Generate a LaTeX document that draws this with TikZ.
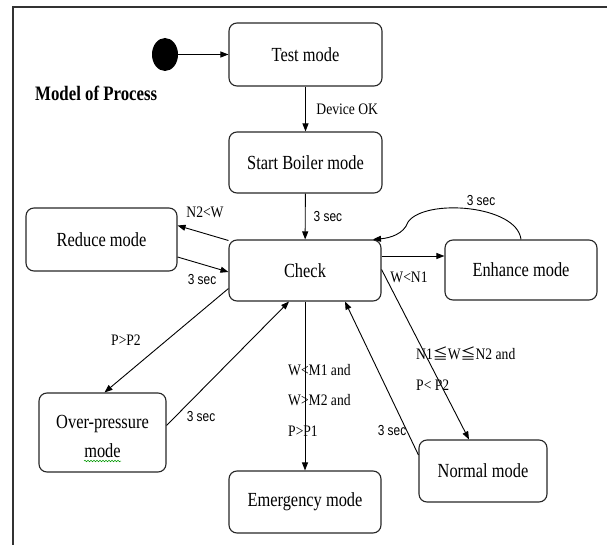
\documentclass[tikz,border=0pt]{standalone}
\usepackage{fontspec}
\setmainfont{Liberation Serif}
\newfontfamily\boxfont{Liberation Serif}[FakeStretch=0.82]
\newfontfamily\lblfont{Liberation Serif}[FakeStretch=0.85]
\newfontfamily\secfont{Liberation Sans}[FakeStretch=0.82]
\newfontfamily\cjkfont{Noto Sans CJK JP}
\usetikzlibrary{arrows.meta,calc,decorations.pathmorphing,shapes.geometric}
\tikzset{
  statebox/.style={draw=black!85, line width=1.1pt, rounded corners=8pt, inner sep=0pt,
    font=\boxfont\fontsize{20}{24}\selectfont},
  boxtext/.style={inner sep=0pt, font=\boxfont\fontsize{20}{24}\selectfont},
  arr/.style={-{Triangle[length=8pt,width=6pt]}, line width=0.9pt},
  lbl/.style={inner sep=0pt, font=\lblfont\fontsize{16}{19}\selectfont},
  seclbl/.style={inner sep=0pt, font=\secfont\fontsize{14.5}{17}\selectfont},
}
\begin{document}
\begin{tikzpicture}[x=1pt,y=-1pt]
\useasboundingbox (0,0) rectangle (607,545);
% frame
\draw[line width=1.2pt, black!80] (13,545) -- (13,7) -- (607,7);

% nodes
\node[ellipse, fill=black, minimum width=26, minimum height=33, inner sep=0pt] (dot) at (165,54.5) {};
\node[statebox, minimum width=153, minimum height=63] (test) at (305.5,54.5) {Test mode};
\node[statebox, minimum width=153, minimum height=61] (boiler) at (305.5,162.5) {Start Boiler mode};
\node[statebox, minimum width=152, minimum height=61] (check) at (305,270.5) {Check};
\node[statebox, minimum width=151, minimum height=63] (reduce) at (101.5,239.5) {Reduce mode};
\node[statebox, minimum width=152, minimum height=60] (enhance) at (521,270) {Enhance mode};
\node[statebox, minimum width=127, minimum height=79] (over) at (102.5,432.5) {};
\node[boxtext, anchor=base] (overtxt1) at (102.5,428) {Over-pressure};
\node[boxtext, anchor=base] (overtxt2) at (102.5,457) {mode};
\node[statebox, minimum width=152, minimum height=62] (emerg) at (305,502) {Emergency mode};
\node[statebox, minimum width=128, minimum height=62] (normal) at (483,471) {Normal mode};

\node[boxtext, font=\boxfont\bfseries\fontsize{20.5}{24}\selectfont, anchor=west] (title) at (35,93) {Model of Process};

% spell-check underline
\draw[green!60!black, line width=0.5pt, decorate, decoration={snake, amplitude=0.8pt, segment length=3pt}] (84,461) -- (121,461);

% connectors
\draw[arr] (dot) -- (test);
\draw[arr] (test) -- (boiler) node[lbl, midway, anchor=west, xshift=10.5pt] (ldev) {Device OK};
\draw[arr] (boiler) -- (check) node[seclbl, midway, anchor=west, xshift=8pt] (lsec1) {3 sec};

\draw[arr] ($(check.west)+(0,-30)$) -- ($(reduce.east)+(0,-14)$);
\node[lbl] (ln2w) at (205,212) {N2<W};
\draw[arr] ($(reduce.east)+(0,17.5)$) -- ($(check.west)+(0,1.5)$);
\node[seclbl] (lsec2) at (202,280) {3 sec};

\draw[arr] ($(check.east)+(0,-14.5)$) -- ($(enhance.west)+(0,-14)$);
\draw[arr] (enhance.north) .. controls (517,205) and (425,198) .. (408,222)
  .. controls (404,234) and (390,238) .. ($(check.north)+(68,0)$);
\node[seclbl] (lsec3) at (481,201) {3 sec};

\draw[arr] ($(check.east)+(0,-1)$) -- ($(normal.north)+(-14,0)$);
\node[lbl] (lwn1) at (409,277) {W<N1};
\node[lbl, anchor=west] (lnw1) at (416,353) {N1{\cjkfont\fontsize{15}{17}\selectfont ≦}W{\cjkfont\fontsize{15}{17}\selectfont ≦}N2 and};
\node[lbl, anchor=west] (lnw2) at (416,385) {P< P2};

\draw[arr] ($(normal.west)+(0,-16)$) -- ($(check.south)+(40,0)$);
\node[seclbl] (lsec4) at (392,431) {3 sec};

\draw[arr] ($(check.west)+(0,18)$) -- ($(over.north)+(2,0)$);
\node[lbl] (lpp2) at (126,340) {P>P2};
\draw[arr] ($(over.east)+(0,-7)$) -- ($(check.south)+(-16,0)$);
\node[seclbl] (lsec5) at (201,417) {3 sec};

\draw[arr] (check) -- (emerg);
\node[lbl, anchor=west] (lem1) at (288,370) {W<M1 and};
\node[lbl, anchor=west] (lem2) at (288,400) {W>M2 and};
\node[lbl, anchor=west] (lem3) at (288,431) {P>P1};
\end{tikzpicture}
\end{document}
